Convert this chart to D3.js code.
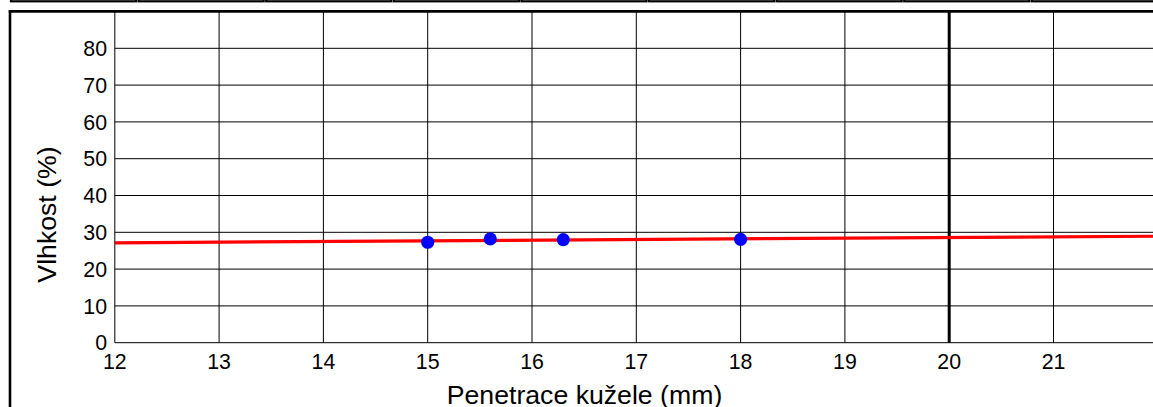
<!DOCTYPE html>
<html>
<head>
<meta charset="utf-8">
<script src="https://cdn.jsdelivr.net/npm/d3@7"></script>
<style>
  html, body { margin: 0; padding: 0; background: #fff; }
  svg { display: block; }
  text { font-family: "Liberation Sans", Arial, sans-serif; fill: #000; }
</style>
</head>
<body>
<svg id="chart" width="1153" height="407"></svg>
<script>
// Fall-cone test: penetration (mm) vs. moisture content (%)
const penetration = [15, 15.6, 16.3, 18];
const moisture = [27.3, 28.2, 28.0, 28.1];
const xTicks = [12, 13, 14, 15, 16, 17, 18, 19, 20, 21];
const yTicks = [0, 10, 20, 30, 40, 50, 60, 70, 80];
const referencePenetration = 20;   // liquid-limit penetration marker
const headerCells = 9;

const svg = d3.select("#chart");
const W = 1153, H = 407;

const x = d3.scaleLinear().domain([12, 22]).range([114.8, 114.8 + 10 * 104.3]);
const y = d3.scaleLinear().domain([0, 90]).range([342.7, 11.5]);

// header strip above the chart frame: a row of bordered cells
const cellW = 127.6;
const header = svg.append("g");
for (let i = 0; i < headerCells; i++) {
  const cx = 10 + i * cellW;
  header.append("rect")
    .attr("x", cx + 1).attr("y", -20)
    .attr("width", cellW - 2.5).attr("height", 21.3)
    .attr("fill", "none").attr("stroke", "#000").attr("stroke-width", 2.2);
}

// chart frame
svg.append("line").attr("x1", 8.8).attr("x2", W + 10).attr("y1", 11.4).attr("y2", 11.4)
  .attr("stroke", "#000").attr("stroke-width", 2.6);
svg.append("line").attr("x1", 10).attr("x2", 10).attr("y1", 10).attr("y2", H + 10)
  .attr("stroke", "#000").attr("stroke-width", 2.6);

// grid
const grid = svg.append("g");
grid.selectAll("line.v").data(xTicks).enter().append("line")
  .attr("class", "v")
  .attr("x1", d => x(d)).attr("x2", d => x(d))
  .attr("y1", y(90)).attr("y2", y(0))
  .attr("stroke", "#000").attr("stroke-width", 1);
grid.selectAll("line.h").data(yTicks).enter().append("line")
  .attr("class", "h")
  .attr("x1", x(12)).attr("x2", W + 5)
  .attr("y1", d => y(d)).attr("y2", d => y(d))
  .attr("stroke", "#000").attr("stroke-width", 1);

// 20 mm marker
svg.append("line")
  .attr("x1", x(referencePenetration)).attr("x2", x(referencePenetration))
  .attr("y1", y(90)).attr("y2", y(0))
  .attr("stroke", "#000").attr("stroke-width", 3);

// tick labels
svg.append("g").selectAll("text").data(xTicks).enter().append("text")
  .attr("x", d => x(d)).attr("y", 369.3)
  .attr("text-anchor", "middle")
  .style("font-size", "21.33px")
  .text(d => d);
svg.append("g").selectAll("text").data(yTicks).enter().append("text")
  .attr("x", 107).attr("y", d => y(d) + 7.7)
  .attr("text-anchor", "end")
  .style("font-size", "21.33px")
  .text(d => d);

// axis titles
svg.append("text")
  .attr("x", 584.5).attr("y", 403.5)
  .attr("text-anchor", "middle")
  .style("font-size", "26.67px")
  .text("Penetrace kužele (mm)");
svg.append("text")
  .attr("transform", "translate(56,214.5) rotate(-90)")
  .attr("text-anchor", "middle")
  .style("font-size", "26.67px")
  .text("Vlhkost (%)");

// least-squares line through the measurements
const mx = d3.mean(penetration), my = d3.mean(moisture);
const sxy = d3.sum(penetration, (p, i) => (p - mx) * (moisture[i] - my));
const sxx = d3.sum(penetration, p => (p - mx) * (p - mx));
const slope = sxy / sxx, intercept = my - slope * mx;
const fitX = [12, x.invert(W + 5)];
svg.append("clipPath").attr("id", "plotclip")
  .append("rect").attr("x", x(12) - 3).attr("y", y(90)).attr("width", W).attr("height", y(0) - y(90));
svg.append("path")
  .datum(fitX)
  .attr("clip-path", "url(#plotclip)")
  .attr("d", d3.line().x(d => x(d)).y(d => y(intercept + slope * d)))
  .attr("fill", "none")
  .attr("stroke", "#ff0000")
  .attr("stroke-width", 3.2);

// measurement points
svg.append("g").selectAll("circle").data(penetration).enter().append("circle")
  .attr("cx", d => x(d))
  .attr("cy", (d, i) => y(moisture[i]))
  .attr("r", 6.6)
  .attr("fill", "#0000ff");
</script>
</body>
</html>
